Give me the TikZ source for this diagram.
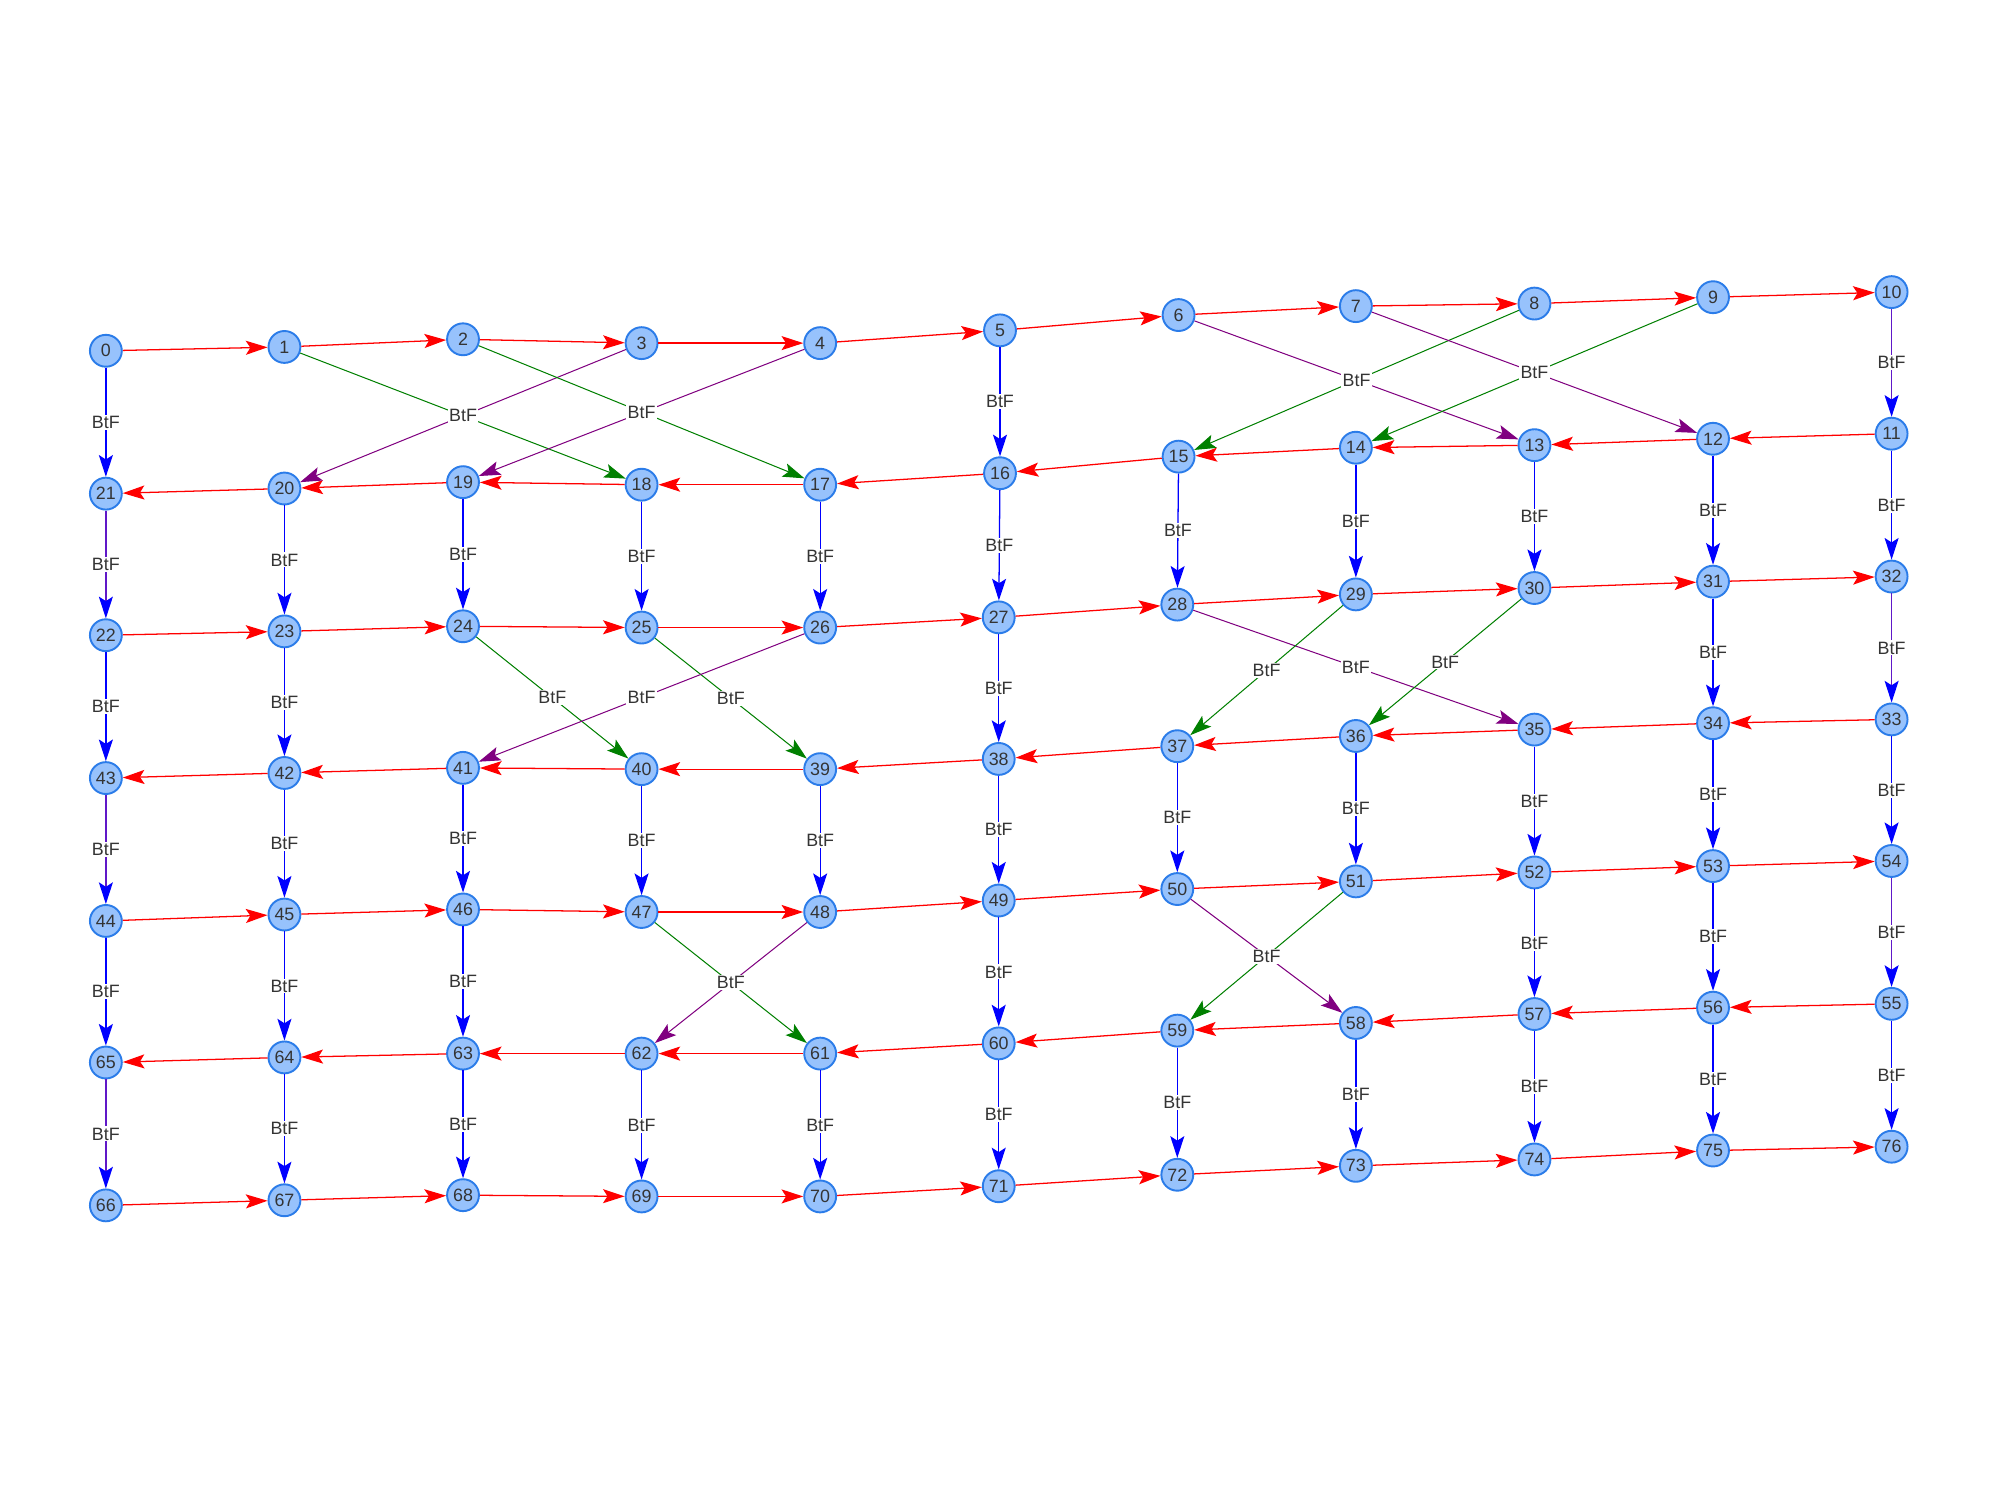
\documentclass[tikz,border=0pt]{standalone}
\usepackage{fontspec}
\setmainfont{Liberation Sans}
\usetikzlibrary{arrows.meta}
\definecolor{nodefill}{HTML}{97C2FC}
\definecolor{nodeline}{HTML}{2B7CE9}
\definecolor{txtgray}{HTML}{343434}
\definecolor{mixline}{RGB}{96,24,200}
\definecolor{crossp}{RGB}{128,0,128}
\definecolor{crossg}{RGB}{0,128,0}

\begin{document}
\begin{tikzpicture} [x = 1pt, y = -1pt,
  vtx/.style = {circle, draw = nodeline, fill = nodefill, line width = 1.5pt, minimum size = 25pt, inner sep = 0pt, text = txtgray, font = \fontsize{14}{14}\selectfont},
  arr/.style = {-{Stealth[length = 17pt, width = 11pt, inset = 3.5pt]}},
  hedge/.style = {arr, draw = red, line width = 1pt},
  vedge/.style = {arr, draw = blue, line width = 1pt},
  medge/.style = {-{Stealth[length = 17pt, width = 11pt, inset = 3.5pt, color = blue]}, draw = mixline, line width = 1.1pt},
  gedge/.style = {arr, draw = crossg, line width = .8pt},
  pedge/.style = {arr, draw = crossp, line width = .8pt},
  lbl/.style = {fill = white, inner sep = 1pt, text = txtgray, font = \fontsize{14}{14}\selectfont}]
\useasboundingbox [fill = white] (0,0) rectangle (1568,1176);

% row 0
\node [vtx] (n0) at (83,275) {0};
\node [vtx] (n1) at (223,272) {1};
\node [vtx] (n2) at (363,266) {2};
\node [vtx] (n3) at (503,269) {3};
\node [vtx] (n4) at (643,269) {4};
\node [vtx] (n5) at (784,259) {5};
\node [vtx] (n6) at (924,247) {6};
\node [vtx] (n7) at (1063,240) {7};
\node [vtx] (n8) at (1203,238) {8};
\node [vtx] (n9) at (1343,233) {9};
\node [vtx] (n10) at (1483,229) {10};
% row 1
\node [vtx] (n11) at (1483,340) {11};
\node [vtx] (n12) at (1343,344) {12};
\node [vtx] (n13) at (1203,349) {13};
\node [vtx] (n14) at (1063,351) {14};
\node [vtx] (n15) at (924,358) {15};
\node [vtx] (n16) at (784,371) {16};
\node [vtx] (n17) at (643,380) {17};
\node [vtx] (n18) at (503,380) {18};
\node [vtx] (n19) at (363,378) {19};
\node [vtx] (n20) at (223,383) {20};
\node [vtx] (n21) at (83,387) {21};
% row 2
\node [vtx] (n22) at (83,498) {22};
\node [vtx] (n23) at (223,495) {23};
\node [vtx] (n24) at (363,491) {24};
\node [vtx] (n25) at (503,492) {25};
\node [vtx] (n26) at (643,492) {26};
\node [vtx] (n27) at (783,484) {27};
\node [vtx] (n28) at (923,474) {28};
\node [vtx] (n29) at (1063,466) {29};
\node [vtx] (n30) at (1203,461) {30};
\node [vtx] (n31) at (1343,456) {31};
\node [vtx] (n32) at (1483,452) {32};
% row 3
\node [vtx] (n33) at (1483,564) {33};
\node [vtx] (n34) at (1343,567) {34};
\node [vtx] (n35) at (1203,572) {35};
\node [vtx] (n36) at (1063,577) {36};
\node [vtx] (n37) at (923,585) {37};
\node [vtx] (n38) at (783,595) {38};
\node [vtx] (n39) at (643,603) {39};
\node [vtx] (n40) at (503,603) {40};
\node [vtx] (n41) at (363,602) {41};
\node [vtx] (n42) at (223,606) {42};
\node [vtx] (n43) at (83,610) {43};
% row 4
\node [vtx] (n44) at (83,722) {44};
\node [vtx] (n45) at (223,717) {45};
\node [vtx] (n46) at (363,713) {46};
\node [vtx] (n47) at (503,715) {47};
\node [vtx] (n48) at (643,715) {48};
\node [vtx] (n49) at (783,706) {49};
\node [vtx] (n50) at (923,697) {50};
\node [vtx] (n51) at (1063,691) {51};
\node [vtx] (n52) at (1203,684) {52};
\node [vtx] (n53) at (1343,679) {53};
\node [vtx] (n54) at (1483,675) {54};
% row 5
\node [vtx] (n55) at (1483,787) {55};
\node [vtx] (n56) at (1343,790) {56};
\node [vtx] (n57) at (1203,795) {57};
\node [vtx] (n58) at (1063,802) {58};
\node [vtx] (n59) at (923,808) {59};
\node [vtx] (n60) at (783,818) {60};
\node [vtx] (n61) at (643,826) {61};
\node [vtx] (n62) at (503,826) {62};
\node [vtx] (n63) at (363,826) {63};
\node [vtx] (n64) at (223,829) {64};
\node [vtx] (n65) at (83,833) {65};
% row 6
\node [vtx] (n66) at (83,945) {66};
\node [vtx] (n67) at (223,941) {67};
\node [vtx] (n68) at (363,937) {68};
\node [vtx] (n69) at (503,938) {69};
\node [vtx] (n70) at (643,938) {70};
\node [vtx] (n71) at (783,930) {71};
\node [vtx] (n72) at (923,921) {72};
\node [vtx] (n73) at (1063,914) {73};
\node [vtx] (n74) at (1203,909) {74};
\node [vtx] (n75) at (1343,902) {75};
\node [vtx] (n76) at (1483,899) {76};

% red rows
\draw [hedge] (n0) -- (n1);
\draw [hedge] (n1) -- (n2);
\draw [hedge] (n2) -- (n3);
\draw [hedge] (n3) -- (n4);
\draw [hedge] (n4) -- (n5);
\draw [hedge] (n5) -- (n6);
\draw [hedge] (n6) -- (n7);
\draw [hedge] (n7) -- (n8);
\draw [hedge] (n8) -- (n9);
\draw [hedge] (n9) -- (n10);
\draw [hedge] (n11) -- (n12);
\draw [hedge] (n12) -- (n13);
\draw [hedge] (n13) -- (n14);
\draw [hedge] (n14) -- (n15);
\draw [hedge] (n15) -- (n16);
\draw [hedge] (n16) -- (n17);
\draw [hedge] (n17) -- (n18);
\draw [hedge] (n18) -- (n19);
\draw [hedge] (n19) -- (n20);
\draw [hedge] (n20) -- (n21);
\draw [hedge] (n22) -- (n23);
\draw [hedge] (n23) -- (n24);
\draw [hedge] (n24) -- (n25);
\draw [hedge] (n25) -- (n26);
\draw [hedge] (n26) -- (n27);
\draw [hedge] (n27) -- (n28);
\draw [hedge] (n28) -- (n29);
\draw [hedge] (n29) -- (n30);
\draw [hedge] (n30) -- (n31);
\draw [hedge] (n31) -- (n32);
\draw [hedge] (n33) -- (n34);
\draw [hedge] (n34) -- (n35);
\draw [hedge] (n35) -- (n36);
\draw [hedge] (n36) -- (n37);
\draw [hedge] (n37) -- (n38);
\draw [hedge] (n38) -- (n39);
\draw [hedge] (n39) -- (n40);
\draw [hedge] (n40) -- (n41);
\draw [hedge] (n41) -- (n42);
\draw [hedge] (n42) -- (n43);
\draw [hedge] (n44) -- (n45);
\draw [hedge] (n45) -- (n46);
\draw [hedge] (n46) -- (n47);
\draw [hedge] (n47) -- (n48);
\draw [hedge] (n48) -- (n49);
\draw [hedge] (n49) -- (n50);
\draw [hedge] (n50) -- (n51);
\draw [hedge] (n51) -- (n52);
\draw [hedge] (n52) -- (n53);
\draw [hedge] (n53) -- (n54);
\draw [hedge] (n55) -- (n56);
\draw [hedge] (n56) -- (n57);
\draw [hedge] (n57) -- (n58);
\draw [hedge] (n58) -- (n59);
\draw [hedge] (n59) -- (n60);
\draw [hedge] (n60) -- (n61);
\draw [hedge] (n61) -- (n62);
\draw [hedge] (n62) -- (n63);
\draw [hedge] (n63) -- (n64);
\draw [hedge] (n64) -- (n65);
\draw [hedge] (n66) -- (n67);
\draw [hedge] (n67) -- (n68);
\draw [hedge] (n68) -- (n69);
\draw [hedge] (n69) -- (n70);
\draw [hedge] (n70) -- (n71);
\draw [hedge] (n71) -- (n72);
\draw [hedge] (n72) -- (n73);
\draw [hedge] (n73) -- (n74);
\draw [hedge] (n74) -- (n75);
\draw [hedge] (n75) -- (n76);

% columns
\draw [vedge] (n0) -- node [lbl] {BtF} (n21);
\draw [medge] (n21) -- node [lbl] {BtF} (n22);
\draw [vedge] (n22) -- node [lbl] {BtF} (n43);
\draw [medge] (n43) -- node [lbl] {BtF} (n44);
\draw [vedge] (n44) -- node [lbl] {BtF} (n65);
\draw [medge] (n65) -- node [lbl] {BtF} (n66);
\draw [vedge] (n20) -- node [lbl] {BtF} (n23);
\draw [vedge] (n23) -- node [lbl] {BtF} (n42);
\draw [vedge] (n42) -- node [lbl] {BtF} (n45);
\draw [vedge] (n45) -- node [lbl] {BtF} (n64);
\draw [vedge] (n64) -- node [lbl] {BtF} (n67);
\draw [vedge] (n19) -- node [lbl] {BtF} (n24);
\draw [vedge] (n41) -- node [lbl] {BtF} (n46);
\draw [vedge] (n46) -- node [lbl] {BtF} (n63);
\draw [vedge] (n63) -- node [lbl] {BtF} (n68);
\draw [vedge] (n18) -- node [lbl] {BtF} (n25);
\draw [vedge] (n40) -- node [lbl] {BtF} (n47);
\draw [vedge] (n62) -- node [lbl] {BtF} (n69);
\draw [vedge] (n17) -- node [lbl] {BtF} (n26);
\draw [vedge] (n39) -- node [lbl] {BtF} (n48);
\draw [vedge] (n61) -- node [lbl] {BtF} (n70);
\draw [vedge] (n5) -- node [lbl] {BtF} (n16);
\draw [vedge] (n16) -- node [lbl] {BtF} (n27);
\draw [vedge] (n27) -- node [lbl] {BtF} (n38);
\draw [vedge] (n38) -- node [lbl] {BtF} (n49);
\draw [vedge] (n49) -- node [lbl] {BtF} (n60);
\draw [vedge] (n60) -- node [lbl] {BtF} (n71);
\draw [vedge] (n15) -- node [lbl] {BtF} (n28);
\draw [vedge] (n37) -- node [lbl] {BtF} (n50);
\draw [vedge] (n59) -- node [lbl] {BtF} (n72);
\draw [vedge] (n14) -- node [lbl] {BtF} (n29);
\draw [vedge] (n36) -- node [lbl] {BtF} (n51);
\draw [vedge] (n58) -- node [lbl] {BtF} (n73);
\draw [vedge] (n13) -- node [lbl] {BtF} (n30);
\draw [vedge] (n35) -- node [lbl] {BtF} (n52);
\draw [vedge] (n52) -- node [lbl] {BtF} (n57);
\draw [vedge] (n57) -- node [lbl] {BtF} (n74);
\draw [vedge] (n12) -- node [lbl] {BtF} (n31);
\draw [vedge] (n31) -- node [lbl] {BtF} (n34);
\draw [vedge] (n34) -- node [lbl] {BtF} (n53);
\draw [vedge] (n53) -- node [lbl] {BtF} (n56);
\draw [vedge] (n56) -- node [lbl] {BtF} (n75);
\draw [medge] (n10) -- node [lbl] {BtF} (n11);
\draw [vedge] (n11) -- node [lbl] {BtF} (n32);
\draw [medge] (n32) -- node [lbl] {BtF} (n33);
\draw [vedge] (n33) -- node [lbl] {BtF} (n54);
\draw [medge] (n54) -- node [lbl] {BtF} (n55);
\draw [vedge] (n55) -- node [lbl] {BtF} (n76);

% crossings
\draw [gedge] (n1) -- (n18);
\draw [pedge] (n3) -- node [lbl] {BtF} (n20);
\draw [gedge] (n2) -- (n17);
\draw [pedge] (n4) -- node [lbl] {BtF} (n19);
\draw [pedge] (n6) -- (n13);
\draw [gedge] (n8) -- node [lbl] {BtF} (n15);
\draw [pedge] (n7) -- (n12);
\draw [gedge] (n9) -- node [lbl] {BtF} (n14);
\draw [gedge] (n24) -- node [lbl] {BtF} (n40);
\draw [gedge] (n25) -- node [lbl] {BtF} (n39);
\draw [pedge] (n26) -- node [lbl] {BtF} (n41);
\draw [pedge] (n28) -- node [lbl] {BtF} (n35);
\draw [gedge] (n29) -- node [lbl] {BtF} (n37);
\draw [gedge] (n30) -- node [lbl] {BtF} (n36);
\draw [gedge] (n47) -- (n61);
\draw [pedge] (n48) -- node [lbl] {BtF} (n62);
\draw [pedge] (n50) -- (n58);
\draw [gedge] (n51) -- node [lbl] {BtF} (n59);
\end{tikzpicture}
\end{document}
